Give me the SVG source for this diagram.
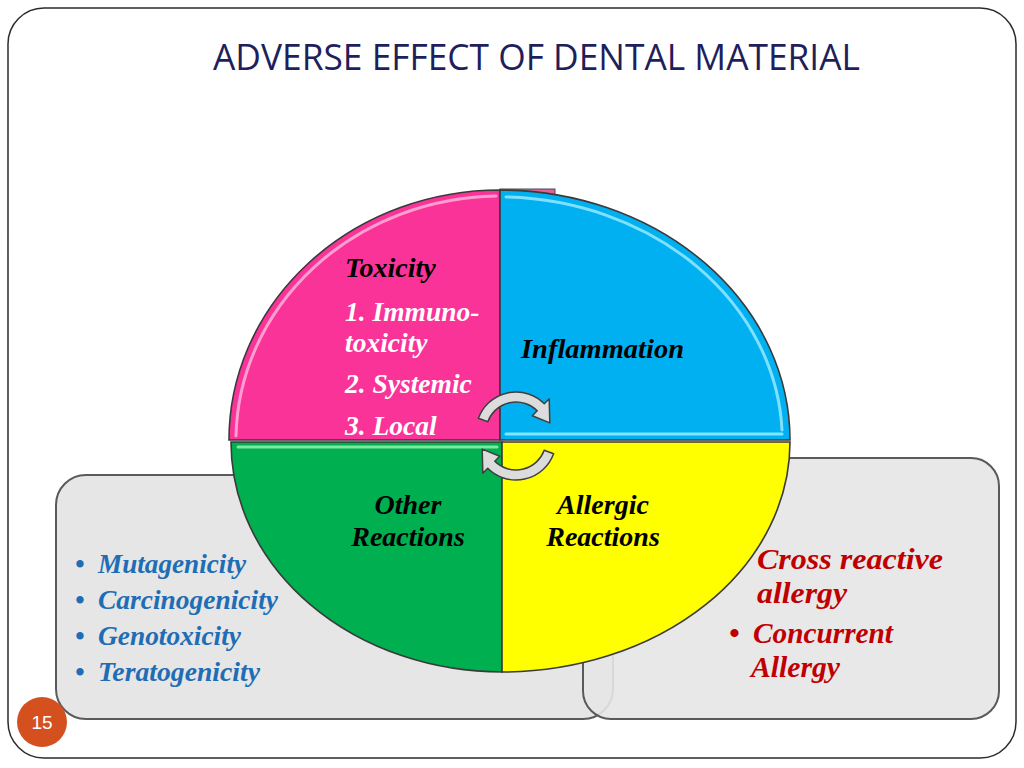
<svg xmlns="http://www.w3.org/2000/svg" width="1024" height="768" viewBox="0 0 1024 768">
<style>
.serif{font-family:"Liberation Serif","Times New Roman",serif;font-weight:bold;font-style:italic}
.blue{fill:#1F6DB5;font-size:27px}
.red{fill:#C00000;font-size:30px}
.blk{fill:#000;font-size:28px}
.wht{fill:#fff;font-size:27.5px}
.box{fill:#E6E6E6;stroke:#5A5A5A;stroke-width:2}
.q{stroke:#3A3A3A;stroke-width:1.6}
.hl{fill:none;stroke-width:3;stroke-linecap:round}
.arr{fill:#DCDCDC;stroke:#3F3F3F;stroke-width:1.5;stroke-linejoin:round}
</style>
<rect x="0" y="0" width="1024" height="768" fill="#fff"/>
<rect id="frame" x="8" y="8" width="1008" height="750" rx="36" fill="none" stroke="#2B2B2B" stroke-width="1.5"/>
<text id="title" x="213" y="70" font-family="Open Sans,Liberation Sans,sans-serif" font-size="37" fill="#1F1F5C" textLength="647" lengthAdjust="spacingAndGlyphs">ADVERSE EFFECT OF DENTAL MATERIAL</text>

<g id="box-left">
<rect class="box" x="56" y="475" width="557" height="244" rx="30"/>
<text class="serif blue" x="75" y="573">•</text><text class="serif blue" x="98" y="573" textLength="148" lengthAdjust="spacingAndGlyphs">Mutagenicity</text>
<text class="serif blue" x="75" y="609">•</text><text class="serif blue" x="98" y="609" textLength="180" lengthAdjust="spacingAndGlyphs">Carcinogenicity</text>
<text class="serif blue" x="75" y="645">•</text><text class="serif blue" x="98" y="645" textLength="143" lengthAdjust="spacingAndGlyphs">Genotoxicity</text>
<text class="serif blue" x="75" y="681">•</text><text class="serif blue" x="98" y="681" textLength="162" lengthAdjust="spacingAndGlyphs">Teratogenicity</text>
</g>
<g id="box-right">
<rect class="box" x="583" y="458" width="416" height="261" rx="28" fill-opacity="0.9"/>
<text class="serif red" x="757" y="569" textLength="186" lengthAdjust="spacingAndGlyphs">Cross reactive</text>
<text class="serif red" x="757" y="603" textLength="90" lengthAdjust="spacingAndGlyphs">allergy</text>
<text class="serif red" x="729" y="643">•</text><text class="serif red" x="753" y="643" textLength="140" lengthAdjust="spacingAndGlyphs">Concurrent</text>
<text class="serif red" x="751" y="677" textLength="89" lengthAdjust="spacingAndGlyphs">Allergy</text>
</g>

<g id="circle">
<rect x="500" y="189" width="55" height="6" fill="#E0609F" stroke="#4A4A4A" stroke-width="1"/>
<g id="toxicity">
<path class="q" d="M500,440 L229,440 A271,250 0 0 1 500,190 Z" fill="#FA3399"/>
<path class="hl" d="M236,436 A265,245 0 0 1 496,196" stroke="#FF9FD0"/>
<text class="serif blk" x="345" y="277" font-size="27">Toxicity</text>
<text class="serif wht" x="345" y="321">1. Immuno-</text>
<text class="serif wht" x="345" y="352">toxicity</text>
<text class="serif wht" x="345" y="393">2. Systemic</text>
<text class="serif wht" x="345" y="435">3. Local</text>
</g>
<g id="inflammation">
<path class="q" d="M500,440 L500,190 A290,250 0 0 1 790,440 Z" fill="#00B0F0"/>
<path class="hl" d="M506,197 A284,244 0 0 1 782,430" stroke="#7FE0FF"/>
<path class="hl" d="M506,434 L782,434" stroke="#7FE8FF"/>
<text class="serif blk" x="521" y="358" textLength="163" lengthAdjust="spacingAndGlyphs">Inflammation</text>
</g>
<g id="other">
<path class="q" d="M502,442 L231,442 A271,230 0 0 0 502,672 Z" fill="#00B050"/>
<path class="hl" d="M238,447 L497,447" stroke="#7CEB9E"/>
<text class="serif blk" x="408" y="514" text-anchor="middle">Other</text>
<text class="serif blk" x="408" y="546" text-anchor="middle">Reactions</text>
</g>
<g id="allergic">
<path class="q" d="M502,442 L790,442 A288,230 0 0 1 502,672 Z" fill="#FFFF00"/>
<text class="serif blk" x="603" y="514" text-anchor="middle">Allergic</text>
<text class="serif blk" x="603" y="546" text-anchor="middle">Reactions</text>
</g>
</g>

<g id="connectors">
<path class="arr" d="M478.4,418.3 A40,40 0 0 1 544.3,403.7 L549.2,398.8 L549.8,422.9 L532.3,415.7 L537.2,410.8 A30,30 0 0 0 487.8,421.7 Z"/>
<path class="arr" d="M553.6,453.7 A40,40 0 0 1 487.7,468.3 L482.8,473.2 L482.2,449.1 L499.7,456.3 L494.8,461.2 A30,30 0 0 0 544.2,450.3 Z"/>
</g>

<g id="page-number">
<circle cx="42" cy="722" r="25" fill="#D4501F"/>
<text x="42" y="729" text-anchor="middle" font-family="Liberation Sans,Arial,sans-serif" font-size="19" fill="#fff">15</text>
</g>
</svg>
